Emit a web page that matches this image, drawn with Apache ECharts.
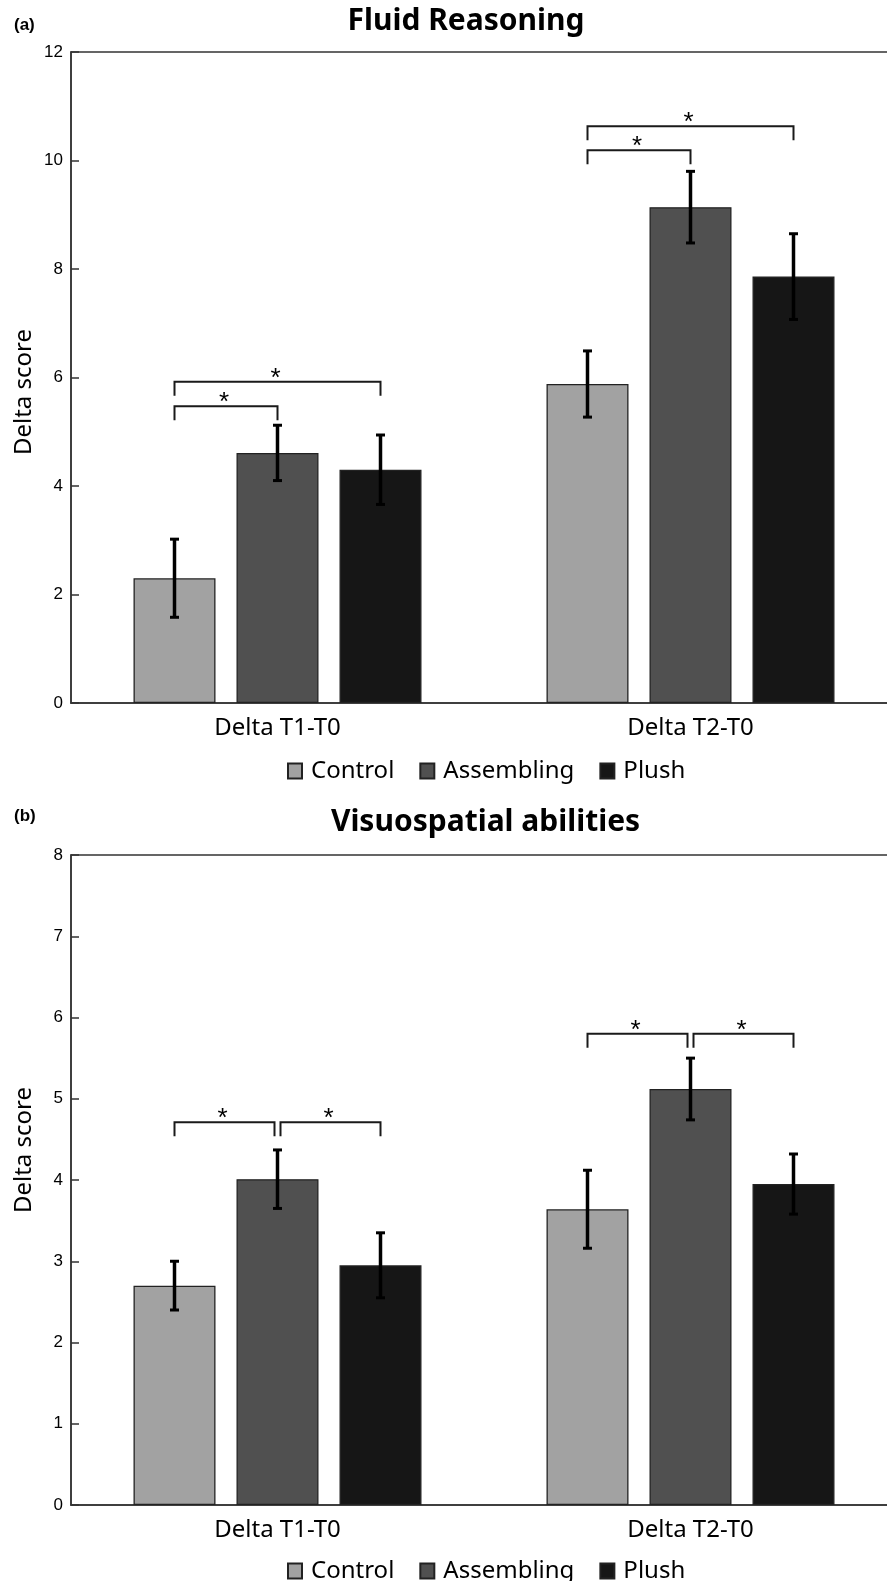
<!DOCTYPE html>
<html>
<head>
<meta charset="utf-8">
<script src="https://cdn.jsdelivr.net/npm/echarts@6/dist/echarts.min.js"></script>
<style>html,body{margin:0;padding:0;background:#fff;overflow:hidden}</style>
</head>
<body>
<!-- plot frame runs past the right edge of the page in the original figure -->
<div id="main" style="width:897px;height:1581px"></div>
<script>
// categories / groups
var categories = ['Delta T1-T0', 'Delta T2-T0'];
var groups = ['Control', 'Assembling', 'Plush'];

// (a) Fluid Reasoning: means and half error bars [T1, T2]
var fluidControl = [2.30, 5.88];
var fluidAssembling = [4.61, 9.14];
var fluidPlush = [4.30, 7.86];
var fluidControlErr = [0.72, 0.61];
var fluidAssemblingErr = [0.51, 0.66];
var fluidPlushErr = [0.64, 0.79];
// significance brackets: [category, from group, to group, height]
var fluidBrackets = [[0, 0, 2, 5.92], [0, 0, 1, 5.47], [1, 0, 2, 10.63], [1, 0, 1, 10.19]];
var fluidTicks = [0, 12, 2]; // min, max, step

// (b) Visuospatial abilities
var visuoControl = [2.70, 3.64];
var visuoAssembling = [4.01, 5.12];
var visuoPlush = [2.95, 3.95];
var visuoControlErr = [0.30, 0.48];
var visuoAssemblingErr = [0.36, 0.38];
var visuoPlushErr = [0.40, 0.37];
var visuoBrackets = [[0, 0, 1, 4.71], [0, 1, 2, 4.71], [1, 0, 1, 5.80], [1, 1, 2, 5.80]];
var visuoTicks = [0, 8, 1];

var colors = ['#a2a2a2', '#505050', '#161616'];
var BAR_W = 82, BAR_GAP = 21;
var LEG = 14;

var myChart = echarts.init(document.getElementById('main'));

function barOffset(g) {
  return (g - 1) * (BAR_W + BAR_GAP);
}

function errData(means, errs) {
  var out = [];
  means.forEach(function (m, gi) {
    m.forEach(function (v, ci) {
      out.push([ci, gi, v - errs[gi][ci], v + errs[gi][ci]]);
    });
  });
  return out;
}

// inset 3px where two brackets on the same level meet
function bracketData(list) {
  return list.map(function (b) {
    var inL = 0, inR = 0;
    list.forEach(function (o) {
      if (o === b || o[0] !== b[0] || o[3] !== b[3]) return;
      if (o[2] === b[1]) inL = 3;
      if (o[1] === b[2]) inR = 3;
    });
    return [b[0], b[1], b[2], b[3], inL, inR];
  });
}

function renderErr(params, api) {
  var c = api.value(0), g = api.value(1);
  var x = api.coord([c, 0])[0] + barOffset(g);
  var lo = api.coord([c, api.value(2)])[1];
  var hi = api.coord([c, api.value(3)])[1];
  return {
    type: 'group',
    children: [
      { type: 'line', shape: { x1: x, y1: hi, x2: x, y2: lo }, style: { stroke: '#000', lineWidth: 3.5 } },
      { type: 'line', shape: { x1: x - 4.5, y1: hi, x2: x + 4.5, y2: hi }, style: { stroke: '#000', lineWidth: 3 } },
      { type: 'line', shape: { x1: x - 4.5, y1: lo, x2: x + 4.5, y2: lo }, style: { stroke: '#000', lineWidth: 3 } }
    ]
  };
}

function renderBracket(params, api) {
  var c = api.value(0);
  var cx = api.coord([c, 0])[0];
  var x1 = cx + barOffset(api.value(1)) + api.value(4);
  var x2 = cx + barOffset(api.value(2)) - api.value(5);
  var y = api.coord([c, api.value(3)])[1];
  return {
    type: 'group',
    children: [
      { type: 'polyline', shape: { points: [[x1, y + LEG], [x1, y], [x2, y], [x2, y + LEG]] },
        style: { stroke: '#1a1a1a', lineWidth: 2, fill: null } },
      { type: 'text', x: (x1 + x2) / 2 - 2, y: y - 3,
        style: { text: '*', fill: '#000', font: '26px "Liberation Sans"', align: 'center', verticalAlign: 'middle' } }
    ]
  };
}

function panelSeries(idx, means, errs, brackets) {
  var s = groups.map(function (name, gi) {
    return {
      name: name, type: 'bar', xAxisIndex: idx, yAxisIndex: idx,
      data: means[gi], barWidth: BAR_W, barGap: (BAR_GAP / BAR_W * 100) + '%',
      itemStyle: { color: colors[gi], borderColor: '#222', borderWidth: 1.3 },
      emphasis: { disabled: true }
    };
  });
  s.push({
    type: 'custom', xAxisIndex: idx, yAxisIndex: idx, renderItem: renderErr,
    data: errData(means, errs), encode: { x: 0, y: [2, 3] }, z: 5, silent: true
  });
  s.push({
    type: 'custom', xAxisIndex: idx, yAxisIndex: idx, renderItem: renderBracket,
    data: bracketData(brackets), encode: { x: 0, y: 3 }, z: 5, silent: true
  });
  return s;
}

var axisLine = { show: true, lineStyle: { color: '#333', width: 1.5 } };

function xAx(idx) {
  return {
    type: 'category', gridIndex: idx, data: categories,
    axisLine: axisLine, axisTick: { show: false },
    axisLabel: { fontFamily: 'Noto Sans', fontSize: 24, color: '#000', margin: 13 }
  };
}
function yAx(idx, t) {
  return {
    type: 'value', gridIndex: idx, min: t[0], max: t[1], interval: t[2],
    axisLine: axisLine, splitLine: { show: false },
    axisTick: { show: true, inside: true, length: 8, lineStyle: { color: '#333', width: 1.5 } },
    axisLabel: { fontFamily: 'Liberation Sans', fontSize: 17, color: '#000', margin: 8 }
  };
}
function legend(top) {
  return {
    data: groups, left: 287, top: top, padding: 0, icon: 'rect',
    itemWidth: 14, itemHeight: 15, itemGap: 25, selectedMode: false,
    textStyle: { fontFamily: 'Noto Sans', fontSize: 24, color: '#000', padding: [0, 0, 0, 4] }
  };
}
function txt(s, x, y, font, align, rot) {
  return {
    type: 'text', x: x, y: y, rotation: rot || 0,
    style: { text: s, font: font, fill: '#000', align: align || 'center', verticalAlign: 'middle' }
  };
}

var option = {
  animation: false,
  backgroundColor: '#fff',
  grid: [
    { left: 71, right: 0, top: 52, height: 651, show: true, borderColor: '#333', borderWidth: 1.5 },
    { left: 71, right: 0, top: 855, height: 650, show: true, borderColor: '#333', borderWidth: 1.5 }
  ],
  xAxis: [xAx(0), xAx(1)],
  yAxis: [yAx(0, fluidTicks), yAx(1, visuoTicks)],
  legend: [legend(759), legend(1559)],
  graphic: [
    txt('(a)', 14, 25, 'bold 17px "Liberation Sans"', 'left'),
    txt('Fluid Reasoning', 466, 21, 'bold 30px "Noto Sans"'),
    txt('Delta score', 24.5, 392, '24px "Noto Sans"', 'center', Math.PI / 2),
    txt('(b)', 14, 816, 'bold 17px "Liberation Sans"', 'left'),
    txt('Visuospatial abilities', 485.5, 822, 'bold 30px "Noto Sans"'),
    txt('Delta score', 24.5, 1150, '24px "Noto Sans"', 'center', Math.PI / 2)
  ],
  series: [].concat(
    panelSeries(0, [fluidControl, fluidAssembling, fluidPlush],
      [fluidControlErr, fluidAssemblingErr, fluidPlushErr], fluidBrackets),
    panelSeries(1, [visuoControl, visuoAssembling, visuoPlush],
      [visuoControlErr, visuoAssemblingErr, visuoPlushErr], visuoBrackets)
  )
};
myChart.setOption(option);
</script>
</body>
</html>
